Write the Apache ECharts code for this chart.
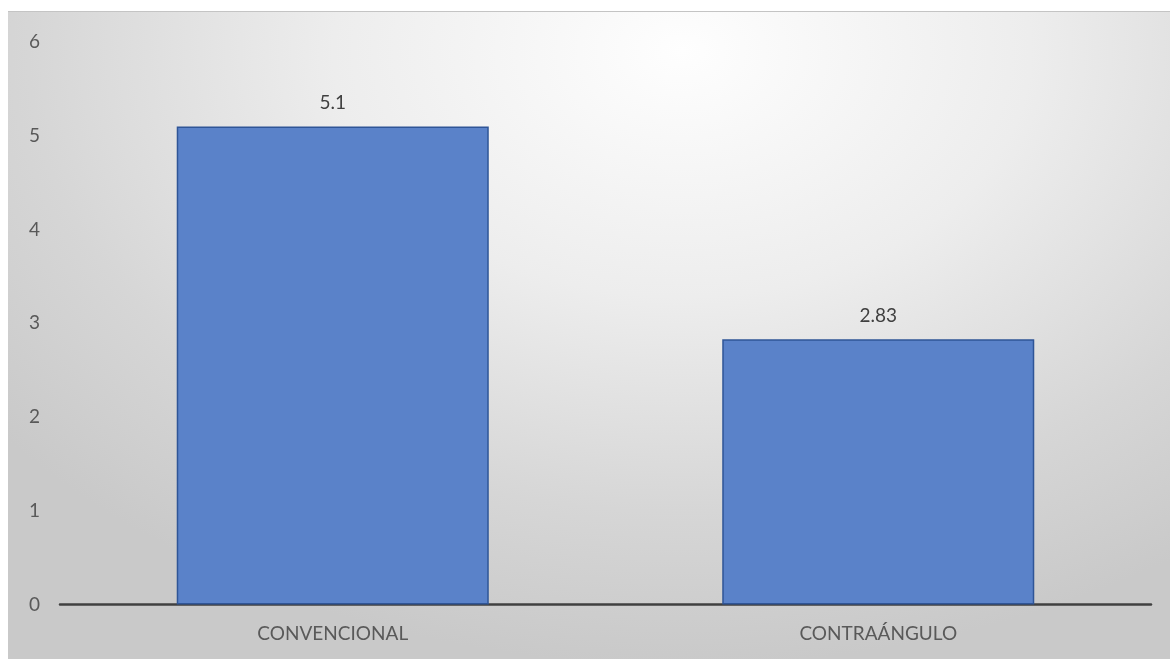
<!DOCTYPE html>
<html>
<head>
<meta charset="utf-8">
<script src="https://cdn.jsdelivr.net/npm/echarts@6/dist/echarts.min.js"></script>
<style>
  html, body { margin: 0; padding: 0; background: #ffffff; }
  #frame {
    position: absolute; left: 8px; top: 11px; width: 1162px; height: 648px;
    background: radial-gradient(ellipse 75% 95% at 58% 6%, #fefefe 0%, #ededed 40%, #d6d6d6 75%, #c9c9c9 100%);
    border-top: 1px solid #c4c4c4;
    box-sizing: border-box;
  }
  #chart { position: absolute; left: 0; top: 0; width: 1170px; height: 659px; }
</style>
</head>
<body>
<div id="frame"></div>
<div id="chart"></div>
<script>
  // Categories and values
  const categories = ['CONVENCIONAL', 'CONTRAÁNGULO'];
  const values = [5.1, 2.83];
  const yTicks = [0, 1, 2, 3, 4, 5, 6];

  const chart = echarts.init(document.getElementById('chart'), null, { renderer: 'canvas' });
  const font = 'Lato, "Open Sans", sans-serif';

  chart.setOption({
    backgroundColor: 'transparent',
    animation: false,
    grid: { left: 60, right: 19, top: 42, bottom: 54.5, containLabel: false },
    xAxis: {
      type: 'category',
      data: categories,
      axisLine: { lineStyle: { color: '#404040', width: 2.5 } },
      axisTick: { show: false },
      axisLabel: { color: '#595959', fontSize: 19, fontFamily: font, margin: 20 }
    },
    yAxis: {
      type: 'value',
      min: yTicks[0],
      max: yTicks[yTicks.length - 1],
      interval: 1,
      splitLine: { show: false },
      axisLine: { show: false },
      axisTick: { show: false },
      axisLabel: {
        color: '#595959', fontSize: 19, fontFamily: font, margin: 20,
        formatter: v => yTicks.includes(v) ? String(v) : ''
      }
    },
    series: [{
      type: 'bar',
      data: values,
      barWidth: '57.2%',
      itemStyle: { color: '#5a82c9', borderColor: '#2f5597', borderWidth: 1.5 },
      label: {
        show: true, position: 'top', distance: 14,
        color: '#404040', fontSize: 19, fontFamily: font,
        formatter: p => String(p.value)
      }
    }]
  });
</script>
</body>
</html>
